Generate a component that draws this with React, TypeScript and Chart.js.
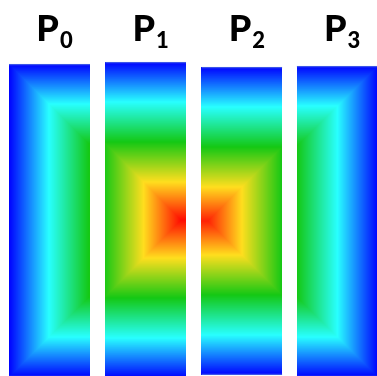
import React, { useEffect, useRef } from "react";
import { Chart, registerables } from "chart.js";

Chart.register(...registerables);

// Partitions of a 2D grid, split column-wise across four processes.
const partitions = ["P0", "P1", "P2", "P3"];
const subscripts = ["0", "1", "2", "3"];
// Global column range owned by each partition.
const colStart = [0, 81, 163, 244];
const colEnd = [81, 163, 244, 324];
// Row range of each partition (y axis runs downward).
const rowTop = [64, 62, 67, 66];
const rowBottom = [377, 378, 375, 377];
// Distance-to-boundary levels and their colours.
const levels = [0, 40, 80, 120, 160];
const levelColors: number[][] = [
  [0, 0, 255],
  [40, 255, 255],
  [20, 200, 20],
  [255, 222, 30],
  [255, 0, 0],
];

const TOTAL_COLS = colEnd[colEnd.length - 1];
const GAP = 14.7; // visual separation between partitions
const LABEL_SHIFT = 5;

function colorAt(d: number): number[] {
  if (d <= levels[0]) return levelColors[0];
  for (let k = 1; k < levels.length; k++) {
    if (d <= levels[k]) {
      const t = (d - levels[k - 1]) / (levels[k] - levels[k - 1]);
      const a = levelColors[k - 1];
      const b = levelColors[k];
      return [a[0] + (b[0] - a[0]) * t, a[1] + (b[1] - a[1]) * t, a[2] + (b[2] - a[2]) * t];
    }
  }
  return levelColors[levelColors.length - 1];
}

// Paints the distance-to-global-boundary field inside each partition bar.
const fieldPlugin = {
  id: "partitionField",
  beforeDatasetsDraw(chart: any) {
    const meta = chart.getDatasetMeta(0);
    const yScale = chart.scales.y;
    const ctx = chart.ctx;
    meta.data.forEach((el: any, i: number) => {
      const { x, y, base, width } = el.getProps(["x", "y", "base", "width"], true);
      const left = Math.round(x - width / 2);
      const right = Math.round(x + width / 2);
      const top = Math.round(Math.min(y, base));
      const bottom = Math.round(Math.max(y, base));
      const w = right - left;
      const h = bottom - top;
      if (w <= 0 || h <= 0) return;
      const off = document.createElement("canvas");
      off.width = w;
      off.height = h;
      const octx = off.getContext("2d")!;
      const img = octx.createImageData(w, h);
      const span = colEnd[i] - colStart[i];
      for (let py = 0; py < h; py++) {
        const v = yScale.getValueForPixel(top + py + 0.5);
        const dy = Math.min(v - rowTop[i], rowBottom[i] - v);
        for (let px = 0; px < w; px++) {
          const u = colStart[i] + ((px + 0.5) / w) * span;
          const dx = Math.min(u, TOTAL_COLS - u);
          const d = Math.max(0, Math.min(dx, dy));
          const c = colorAt(d);
          const p = (py * w + px) * 4;
          img.data[p] = c[0];
          img.data[p + 1] = c[1];
          img.data[p + 2] = c[2];
          img.data[p + 3] = 255;
        }
      }
      octx.putImageData(img, 0, 0);
      ctx.drawImage(off, left, top);
    });
  },
};

// Draws the partition names with subscript indices above each bar.
const labelPlugin = {
  id: "partitionLabels",
  afterDraw(chart: any) {
    const meta = chart.getDatasetMeta(0);
    const ctx = chart.ctx;
    ctx.save();
    ctx.fillStyle = "#000";
    ctx.textBaseline = "alphabetic";
    ctx.textAlign = "left";
    meta.data.forEach((el: any, i: number) => {
      const main = partitions[i].charAt(0);
      const sub = subscripts[i];
      ctx.font = "900 36px Lato";
      const wMain = ctx.measureText(main).width;
      ctx.font = "900 22px Lato";
      const wSub = ctx.measureText(sub).width;
      const total = wMain + 1 + wSub;
      const start = el.x + LABEL_SHIFT - total / 2;
      ctx.font = "900 36px Lato";
      ctx.fillText(main, start, 41);
      ctx.font = "900 22px Lato";
      ctx.fillText(sub, start + wMain + 1, 48);
    });
    ctx.restore();
  },
};

export default function App() {
  const canvasRef = useRef<HTMLCanvasElement>(null);

  useEffect(() => {
    const canvas = canvasRef.current;
    if (!canvas) return;
    const chart = new Chart(canvas, {
      type: "bar",
      data: {
        datasets: [
          {
            data: partitions.map((_, i) => ({
              x: (colStart[i] + colEnd[i]) / 2 + i * GAP,
              y: [rowTop[i], rowBottom[i]],
            })) as any,
            backgroundColor: "rgba(0,0,0,0)",
            borderColor: "rgba(100,140,220,0.6)",
            borderWidth: { top: 1, bottom: 1, left: 0, right: 0 },
            borderSkipped: false,
            barThickness: 81,
          },
        ],
      },
      options: {
        animation: false,
        responsive: false,
        events: [],
        layout: { padding: 0 },
        plugins: {
          legend: { display: false },
          tooltip: { enabled: false },
        },
        scales: {
          x: { type: "linear", min: -9, max: 368, offset: false, display: false },
          y: { type: "linear", min: 0, max: 376, reverse: true, display: false },
        },
      },
      plugins: [fieldPlugin, labelPlugin],
    });
    return () => chart.destroy();
  }, []);

  return (
    <div style={{ position: "absolute", left: 0, top: 0, width: 377, height: 376 }}>
      <canvas ref={canvasRef} width={377} height={376} style={{ display: "block" }} />
    </div>
  );
}
